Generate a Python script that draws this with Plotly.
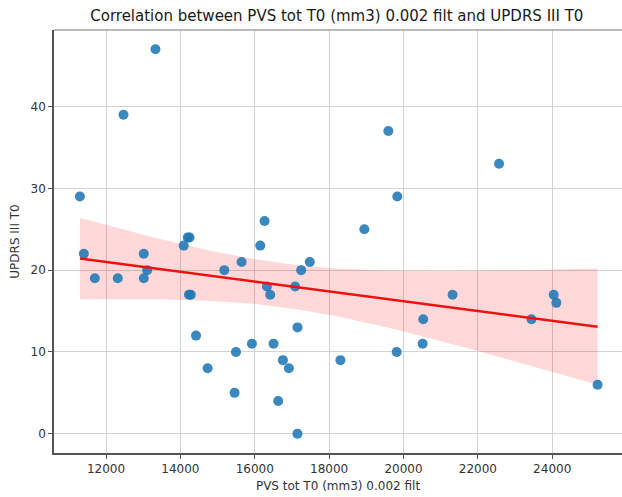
import numpy as np
import plotly.graph_objects as go

pvs_tot_t0 = [11297, 11404, 11699, 12316, 12470, 13015, 13015, 13106, 13329, 14089,
              14200, 14245, 14230, 14280, 14421, 14733, 15181, 15458, 15495, 15646,
              15924, 16148, 16264, 16327, 16416, 16506, 16631, 16757, 16918, 17087,
              17149, 17149, 17248, 17481, 18304, 18948, 19593, 19817, 19834, 20515,
              20532, 21320, 22571, 23442, 24040, 24112, 25221]
updrs_iii_t0 = [29, 22, 19, 19, 39, 22, 19, 20, 47, 23,
                24, 24, 17, 17, 12, 8, 20, 5, 10, 21,
                11, 23, 26, 18, 17, 11, 4, 9, 8, 18,
                13, 0, 20, 21, 9, 25, 37, 10, 29, 11,
                14, 17, 33, 14, 17, 16, 6]
x_ticks = [12000, 14000, 16000, 18000, 20000, 22000, 24000]
y_ticks = [0, 10, 20, 30, 40]

x = np.array(pvs_tot_t0, dtype=float)
y = np.array(updrs_iii_t0, dtype=float)
n = len(x)
slope, intercept = np.polyfit(x, y, 1)
grid = np.linspace(x.min(), x.max(), 100)
fit = intercept + slope * grid
resid = y - (intercept + slope * x)
s = np.sqrt(np.sum(resid ** 2) / (n - 2))
sxx = np.sum((x - x.mean()) ** 2)
se = s * np.sqrt(1.0 / n + (grid - x.mean()) ** 2 / sxx)
tcrit = 2.014
upper = fit + tcrit * se
lower = fit - tcrit * se

font = "DejaVu Sans, sans-serif"
fig = go.Figure()
fig.add_trace(go.Scatter(x=np.concatenate([grid, grid[::-1]]),
                         y=np.concatenate([upper, lower[::-1]]),
                         fill="toself", fillcolor="rgba(255,0,0,0.15)",
                         line=dict(width=0), hoverinfo="skip", showlegend=False))
fig.add_trace(go.Scatter(x=x, y=y, mode="markers",
                         marker=dict(color="rgba(31,119,180,0.88)", size=10, line=dict(width=0)),
                         showlegend=False))
fig.add_trace(go.Scatter(x=grid, y=fit, mode="lines",
                         line=dict(color="#ee1111", width=2.5), showlegend=False))

xmin, xmax = x.min(), x.max()
span = xmax - xmin
fig.update_layout(
    width=622, height=497,
    margin=dict(l=54, r=0, t=30, b=44),
    paper_bgcolor="white", plot_bgcolor="white",
    font=dict(family=font, size=12, color="#333333"),
    title=dict(text="Correlation between PVS tot T0 (mm3) 0.002 filt and UPDRS III T0",
               x=0.5415, xanchor="center", y=0.968, yanchor="middle",
               font=dict(size=15, color="#1a1a1a")),
    xaxis=dict(range=[xmin - 0.05 * span, xmax + 0.05 * span - 40],
               tickvals=x_ticks, ticktext=[str(v) for v in x_ticks],
               showgrid=True, gridcolor="#d3d3d3", gridwidth=1,
               zeroline=False, showline=True, linecolor="#555555", linewidth=1.5,
               ticks="outside", ticklen=4, tickcolor="#555555",
               title=dict(text="PVS tot T0 (mm3) 0.002 filt", standoff=6,
                          font=dict(size=12))),
    yaxis=dict(range=[-2.35, 49.35],
               tickvals=y_ticks, ticktext=[str(v) for v in y_ticks],
               showgrid=True, gridcolor="#d3d3d3", gridwidth=1,
               zeroline=False, showline=True, linecolor="#555555", linewidth=1.5,
               ticks="outside", ticklen=4, tickcolor="#555555",
               title=dict(text="UPDRS III T0", standoff=8, font=dict(size=12))),
    shapes=[dict(type="line", xref="paper", yref="paper", x0=0, x1=1.01, y0=1, y1=1,
                 line=dict(color="#777777", width=1.2))],
)
fig.write_html("out.html")
